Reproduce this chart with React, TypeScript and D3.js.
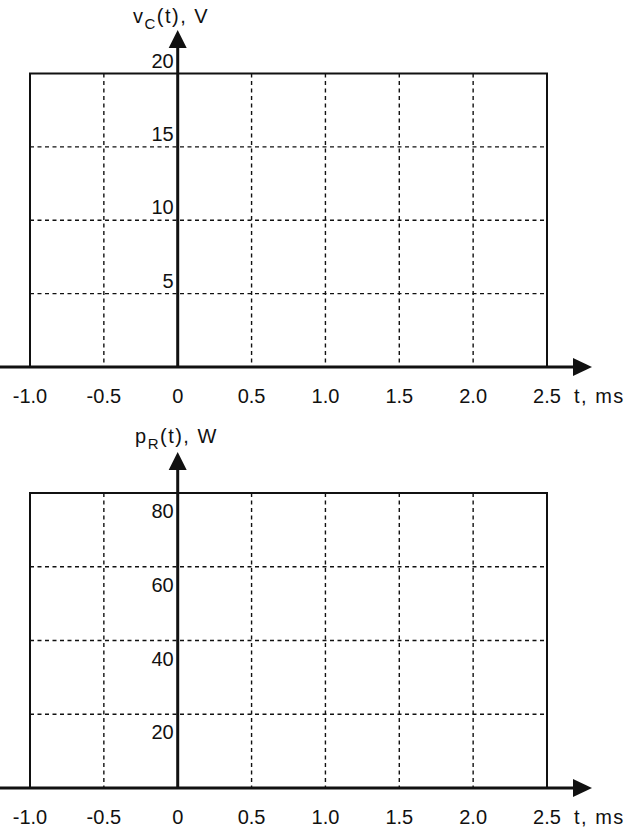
import React from 'react';
import * as d3 from 'd3';

// time axis (ms)
const xTicks = [-1.0, -0.5, 0, 0.5, 1.0, 1.5, 2.0, 2.5];
const xTickLabels = ['-1.0', '-0.5', '0', '0.5', '1.0', '1.5', '2.0', '2.5'];

// top panel: capacitor voltage
const vTicks = [5, 10, 15, 20];
const vTickLabels = ['5', '10', '15', '20'];

// bottom panel: resistor power
const pTicks = [20, 40, 60, 80];
const pTickLabels = ['20', '40', '60', '80'];

const W = 629;
const H = 829;
const FONT = '"Liberation Sans", Arial, sans-serif';

type PanelProps = {
  top: number; // y of max value (box top)
  base: number; // y of the time axis
  arrowTip: number;
  yMax: number;
  yTicks: number[];
  yLabels: string[];
  labelBelow: boolean;
  titleMain: string;
  titleSub: string;
  titleUnit: string;
  titleX: number;
  titleY: number;
};

const x = d3.scaleLinear().domain([-1, 2.5]).range([30, 547]);

const Panel = ({ top, base, arrowTip, yMax, yTicks, yLabels, labelBelow, titleMain, titleSub, titleUnit, titleX, titleY }: PanelProps) => {
  const y = d3.scaleLinear().domain([0, yMax]).range([base, top]);
  const x0 = x(0);
  const xMin = x(-1);
  const xMax = x(2.5);
  const arrowEnd = 592;

  return (
    <g>
      {/* dashed grid */}
      {xTicks.filter(t => t !== -1 && t !== 0 && t !== 2.5).map(t => (
        <line key={'v' + t} x1={x(t)} x2={x(t)} y1={y(yMax)} y2={base}
          stroke="#111" strokeWidth={1.4} strokeDasharray="4,3.5" />
      ))}
      {yTicks.filter(t => t !== yMax).map(t => (
        <line key={'h' + t} x1={xMin} x2={xMax} y1={y(t)} y2={y(t)}
          stroke="#111" strokeWidth={1.4} strokeDasharray="4,3.5" />
      ))}
      {/* frame */}
      <rect x={xMin} y={y(yMax)} width={xMax - xMin} height={base - y(yMax)}
        fill="none" stroke="#111" strokeWidth={2} />
      {/* time axis */}
      <line x1={0} x2={arrowEnd - 16} y1={base} y2={base} stroke="#111" strokeWidth={3} />
      <path d={`M${arrowEnd},${base} L${arrowEnd - 19},${base - 9} L${arrowEnd - 19},${base + 9} Z`} fill="#111" />
      {/* value axis */}
      <line x1={x0} x2={x0} y1={base} y2={arrowTip + 16} stroke="#111" strokeWidth={3} />
      <path d={`M${x0},${arrowTip} L${x0 - 9},${arrowTip + 18} L${x0 + 9},${arrowTip + 18} Z`} fill="#111" />
      {/* tick labels */}
      {xTicks.map((t, i) => (
        <text key={'xl' + t} x={x(t)} y={base + 36} textAnchor="middle"
          fontFamily={FONT} fontSize={20} fill="#111">{xTickLabels[i]}</text>
      ))}
      {yTicks.map((t, i) => (
        <text key={'yl' + t} x={x0 - 4} y={labelBelow ? y(t) + 25 : y(t) - 6} textAnchor="end"
          fontFamily={FONT} fontSize={20} fill="#111">{yLabels[i]}</text>
      ))}
      <text x={574} y={base + 36} fontFamily={FONT} fontSize={20} fill="#111" letterSpacing={1.5}>t, ms</text>
      {/* title */}
      <text x={titleX} y={titleY} fontFamily={FONT} fontSize={20} fill="#111" letterSpacing={1.5}>
        {titleMain}
        <tspan fontSize={15} dy={6}>{titleSub}</tspan>
        <tspan dy={-6}>{titleUnit}</tspan>
      </text>
    </g>
  );
};

export default function App() {
  return (
    <svg width={W} height={H} style={{ position: 'absolute', left: 0, top: 0, background: '#fff' }}>
      <Panel top={73.5} base={367} arrowTip={30} yMax={20} yTicks={vTicks} yLabels={vTickLabels}
        labelBelow={false} titleMain="v" titleSub="C" titleUnit="(t), V" titleX={133} titleY={23} />
      <Panel top={493} base={788} arrowTip={452} yMax={80} yTicks={pTicks} yLabels={pTickLabels}
        labelBelow={true} titleMain="p" titleSub="R" titleUnit="(t), W" titleX={135} titleY={443} />
    </svg>
  );
}
